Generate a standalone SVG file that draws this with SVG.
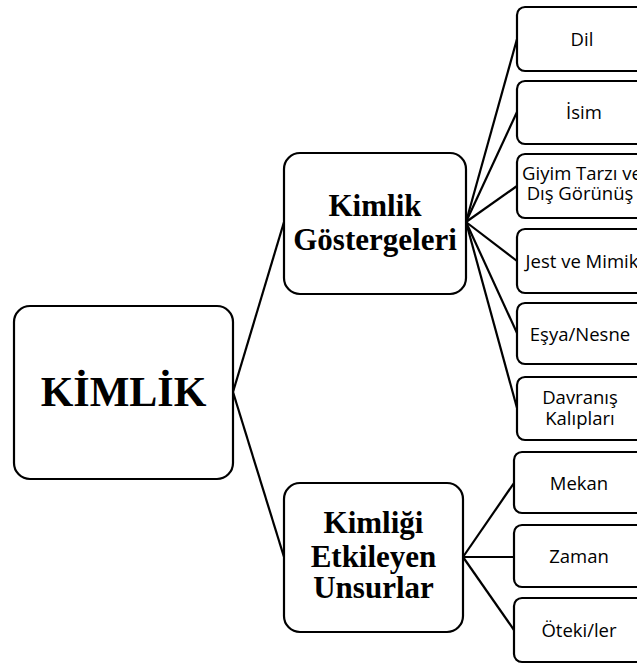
<svg xmlns="http://www.w3.org/2000/svg" width="637" height="664" viewBox="0 0 637 664">
<style>
.box{fill:#fff;stroke:#000;stroke-width:2.2}
.con{stroke:#000;stroke-width:2.2;fill:none}
.big{font-family:"Liberation Serif","Times New Roman",serif;font-weight:bold;text-anchor:middle;fill:#000}
.small{font-family:"Open Sans","Liberation Sans",sans-serif;font-size:18.5px;text-anchor:middle;fill:#000}
</style>
<rect width="637" height="664" fill="#fff"/>
<g id="connectors">
<line class="con" x1="233" y1="392" x2="284" y2="222"/>
<line class="con" x1="233" y1="392" x2="284" y2="557"/>
<line class="con" x1="466" y1="222" x2="517" y2="39"/>
<line class="con" x1="466" y1="222" x2="517" y2="112"/>
<line class="con" x1="466" y1="222" x2="517" y2="186"/>
<line class="con" x1="466" y1="222" x2="517" y2="261"/>
<line class="con" x1="466" y1="222" x2="517" y2="333"/>
<line class="con" x1="466" y1="222" x2="517" y2="408"/>
<line class="con" x1="463" y1="557" x2="514" y2="483"/>
<line class="con" x1="463" y1="557" x2="514" y2="557"/>
<line class="con" x1="463" y1="557" x2="514" y2="630"/>
</g>
<g id="kimlik">
<rect class="box" x="14" y="306" width="219" height="173" rx="16"/>
<text class="big" x="123.5" y="406" font-size="42">KİMLİK</text>
</g>
<g id="gostergeler">
<rect class="box" x="284" y="153" width="182" height="141" rx="16"/>
<text class="big" x="375" y="216" font-size="31">Kimlik</text>
<text class="big" x="375" y="250" font-size="31">Göstergeleri</text>
</g>
<g id="unsurlar">
<rect class="box" x="284" y="483" width="179" height="149" rx="16"/>
<text class="big" x="373.5" y="533" font-size="31">Kimliği</text>
<text class="big" x="373.5" y="567" font-size="31">Etkileyen</text>
<text class="big" x="373.5" y="598" font-size="31">Unsurlar</text>
</g>
<g id="dil">
<rect class="box" x="517" y="7" width="140" height="64" rx="8"/>
<text class="small" x="582" y="46">Dil</text>
</g>
<g id="isim">
<rect class="box" x="517" y="81" width="140" height="63" rx="8"/>
<text class="small" x="584" y="119">İsim</text>
</g>
<g id="giyim">
<rect class="box" x="517" y="154" width="140" height="64" rx="8"/>
<text class="small" x="582" y="180">Giyim Tarzı ve</text>
<text class="small" x="580" y="200">Dış Görünüş</text>
</g>
<g id="jest">
<rect class="box" x="517" y="229" width="140" height="64" rx="8"/>
<text class="small" x="582" y="268">Jest ve Mimik</text>
</g>
<g id="esya">
<rect class="box" x="517" y="303" width="140" height="61" rx="8"/>
<text class="small" x="580" y="341">Eşya/Nesne</text>
</g>
<g id="davranis">
<rect class="box" x="517" y="377" width="140" height="63" rx="8"/>
<text class="small" x="580" y="404">Davranış</text>
<text class="small" x="580" y="425">Kalıpları</text>
</g>
<g id="mekan">
<rect class="box" x="514" y="452" width="140" height="61" rx="8"/>
<text class="small" x="579" y="490">Mekan</text>
</g>
<g id="zaman">
<rect class="box" x="514" y="525" width="140" height="62" rx="8"/>
<text class="small" x="579" y="563">Zaman</text>
</g>
<g id="oteki">
<rect class="box" x="514" y="598" width="140" height="64" rx="8"/>
<text class="small" x="579" y="637">Öteki/ler</text>
</g>
</svg>
